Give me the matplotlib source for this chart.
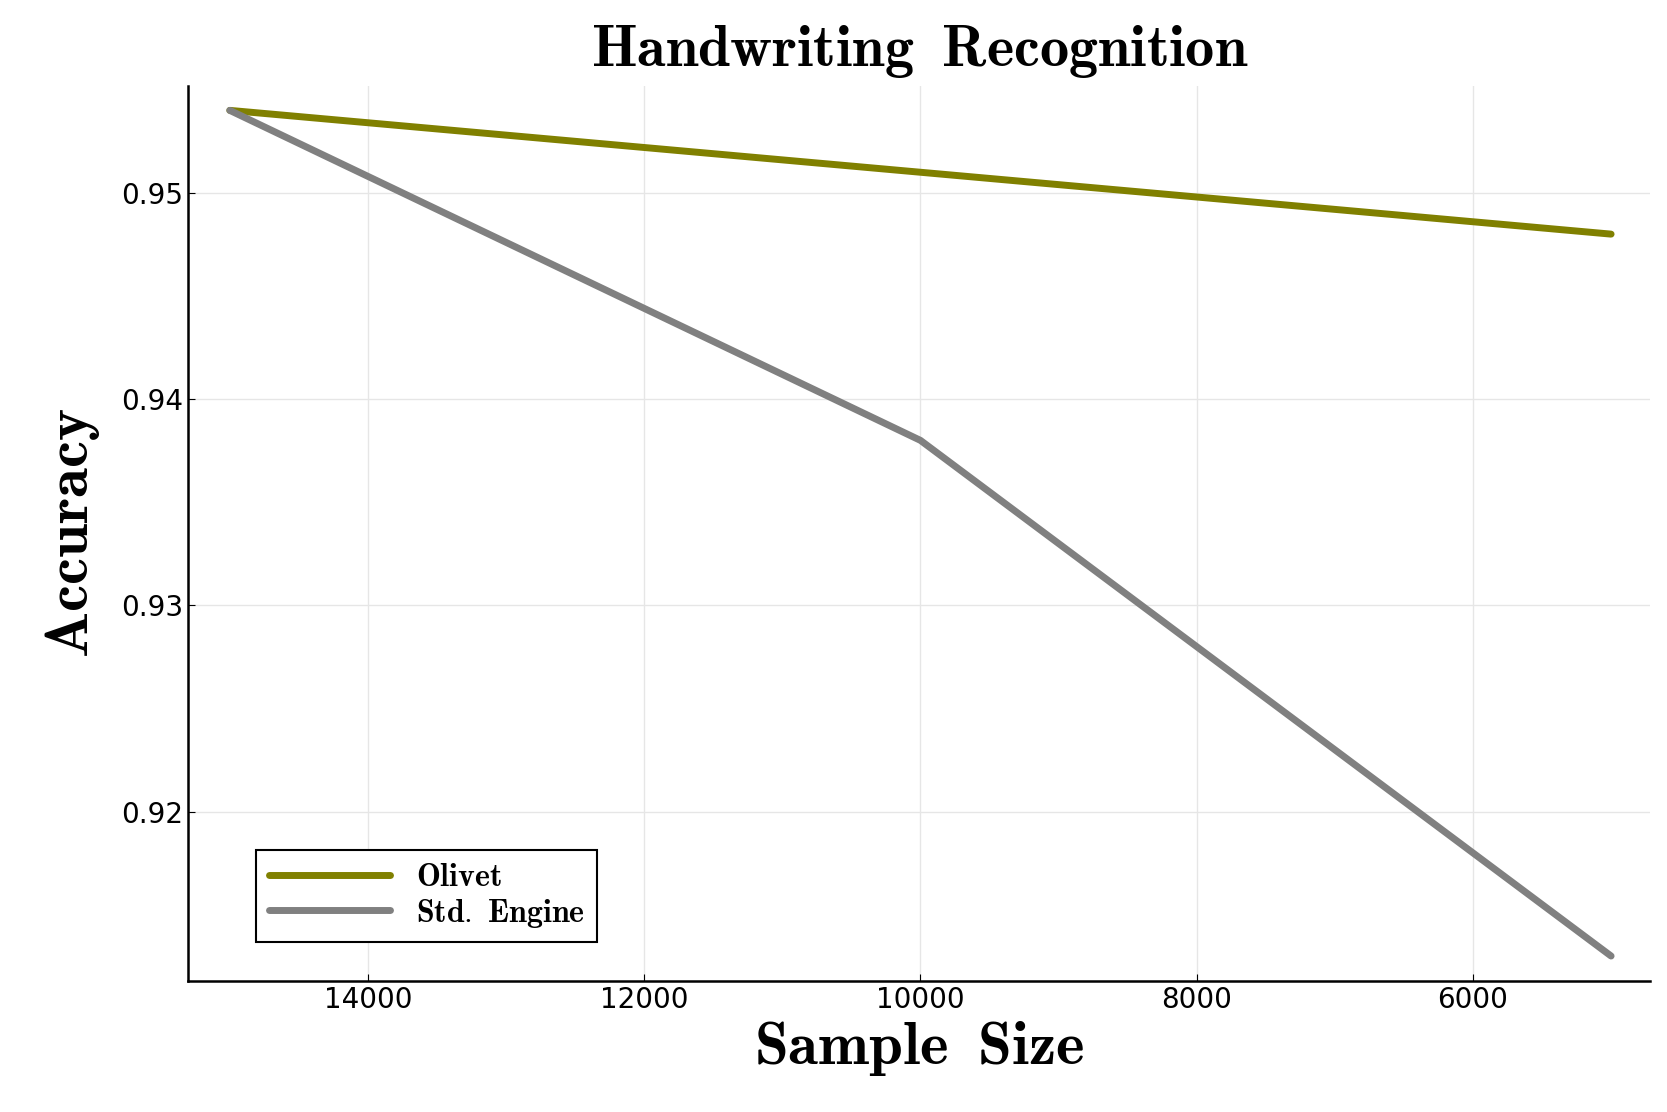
import matplotlib
matplotlib.use("Agg")
import matplotlib.pyplot as plt

sample_size = [15000, 10000, 5000]
olivet = [0.954, 0.951, 0.948]
std_engine = [0.954, 0.938, 0.913]

plt.rcParams["mathtext.fontset"] = "cm"

fig = plt.figure(figsize=(16.67, 11.12), dpi=100)
ax = fig.add_axes([0.113, 0.118, 0.877, 0.805])

ax.plot(sample_size, olivet, color="#808000", lw=5, label=r"$\mathbf{Olivet}$",
        solid_capstyle="round")
ax.plot(sample_size, std_engine, color="#808080", lw=5, label=r"$\mathbf{Std.\ Engine}$",
        solid_capstyle="round")

ax.set_xlim(15300, 4716)
ax.set_ylim(0.9118, 0.9552)
ax.set_xticks([14000, 12000, 10000, 8000, 6000])
ax.set_yticks([0.92, 0.93, 0.94, 0.95])
ax.tick_params(labelsize=20, direction="in", length=5)
ax.grid(True, color="#e6e6e6", lw=1)
for s in ["top", "right"]:
    ax.spines[s].set_visible(False)
for s in ["left", "bottom"]:
    ax.spines[s].set_linewidth(1.8)

ax.set_title(r"$\mathbf{Handwriting\;\;Recognition}$", fontsize=42, pad=14)
ax.set_xlabel(r"$\mathbf{Sample\;\;Size}$", fontsize=44, labelpad=4)
ax.set_ylabel(r"$\mathbf{Accuracy}$", fontsize=44, labelpad=14)

leg = ax.legend(loc="lower left", fontsize=23, fancybox=False, framealpha=1,
                edgecolor="black", handlelength=3.8, labelspacing=0.1,
                borderaxespad=1.2, bbox_to_anchor=(0.02, 0.0))
leg.get_frame().set_linewidth(1.5)

fig.savefig("out.png", dpi=100)
